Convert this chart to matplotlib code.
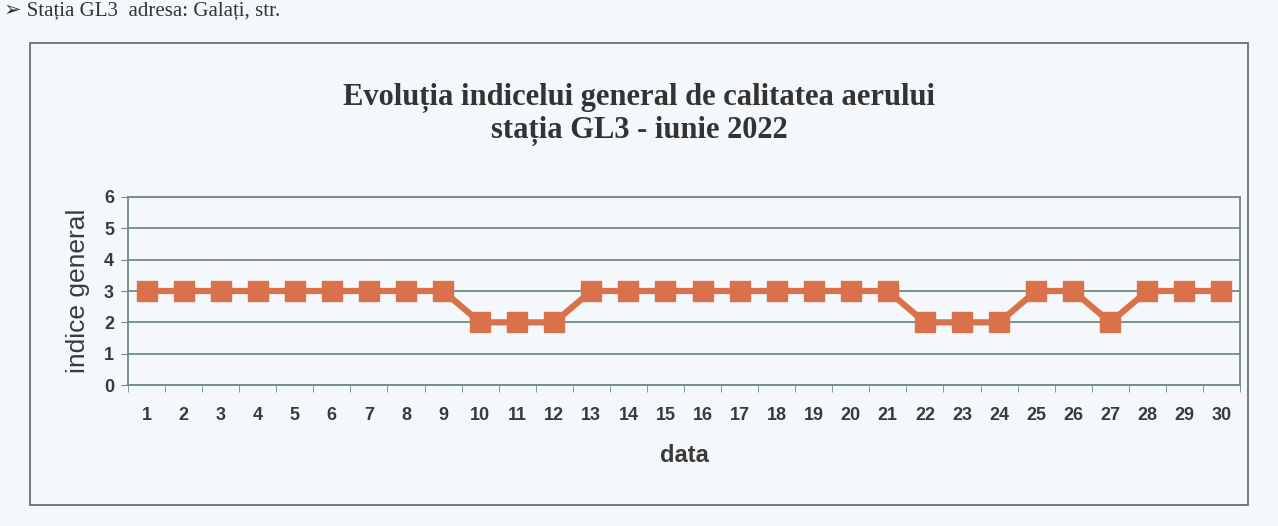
import numpy as np
import matplotlib.pyplot as plt
from matplotlib.patches import Rectangle

# zilele lunii iunie 2022 si indicele general zilnic
days = list(range(1, 31))
indice = [3, 3, 3, 3, 3, 3, 3, 3, 3,
          2, 2, 2,
          3, 3, 3, 3, 3, 3, 3, 3, 3,
          2, 2, 2,
          3, 3,
          2,
          3, 3, 3]
yticks = [0, 1, 2, 3, 4, 5, 6]

bg = '#f5f8fb'
grid_col = '#6f8c84'
line_col = '#d9714a'
txt_col = '#333333'

fig = plt.figure(figsize=(12.78, 5.26), dpi=100, facecolor=bg)

# linia de text din document, deasupra graficului
fig.text(0.003, 0.997, '\u27a2 Stația GL3  adresa: Galați, str.', fontsize=15,
         family=['Liberation Serif', 'DejaVu Sans'], va='top', ha='left',
         color=txt_col)

# chenarul graficului
fig.patches.append(Rectangle((30 / 1278, 1 - 505 / 526), 1218 / 1278, 462 / 526,
                             transform=fig.transFigure, fill=False,
                             edgecolor='#5a6a66', linewidth=1.2))

ax = fig.add_axes([128 / 1278, 1 - 385 / 526, 1112 / 1278, 188 / 526])
ax.set_facecolor(bg)

ax.plot(days, indice, color=line_col, linewidth=4.5, marker='s', markersize=14,
        markerfacecolor=line_col, markeredgecolor=line_col, zorder=3)

ax.set_xlim(0.5, 30.5)
ax.set_ylim(0, 6)
ax.set_yticks(yticks)
ax.set_xticks(days)
ax.set_xticks(np.arange(0.5, 31, 1), minor=True)
ax.tick_params(axis='x', which='major', length=0, pad=16)
ax.tick_params(axis='x', which='minor', length=5, color=grid_col)
ax.tick_params(axis='y', length=5, color=grid_col, pad=5)
for lab in ax.get_xticklabels() + ax.get_yticklabels():
    lab.set_fontfamily('Liberation Sans')
    lab.set_fontweight('bold')
    lab.set_fontsize(13)
    lab.set_color('#3a3a3a')

ax.grid(axis='y', color=grid_col, linewidth=1.3)
for s in ax.spines.values():
    s.set_color(grid_col)
    s.set_linewidth(1.3)

ax.set_xlabel('data', fontsize=17, fontweight='bold', family='Liberation Sans',
              color='#3a3a3a', labelpad=14)
ax.set_ylabel('indice general', fontsize=19, family='Liberation Sans',
              color='#3a3a3a', labelpad=10)

fig.text(0.5, 1 - 98 / 526, 'Evoluția indicelui general de calitatea aerului',
         ha='center', va='center', fontsize=22, fontweight='bold',
         family='Liberation Serif', color=txt_col)
fig.text(0.5, 1 - 131 / 526, 'stația GL3 - iunie 2022',
         ha='center', va='center', fontsize=22, fontweight='bold',
         family='Liberation Serif', color=txt_col)

fig.savefig('out.png', dpi=100, facecolor=bg)
